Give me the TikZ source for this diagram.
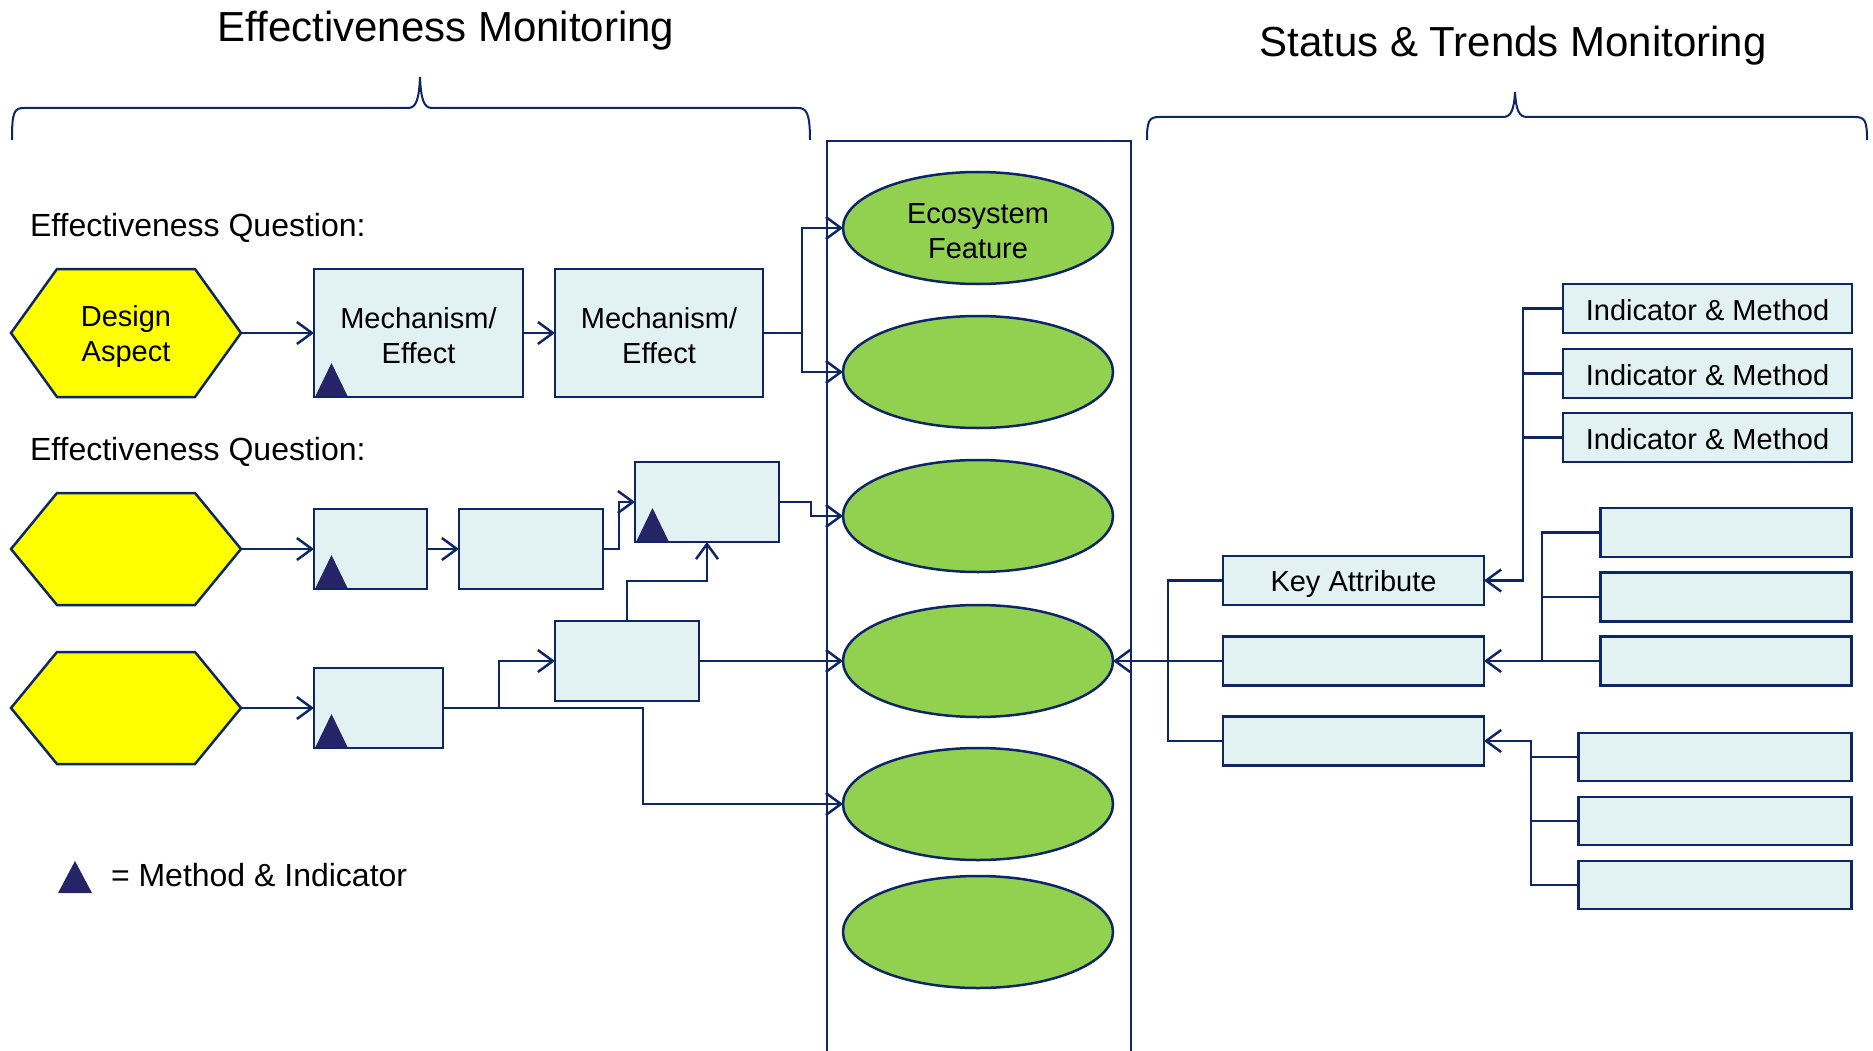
\documentclass[tikz,border=0pt]{standalone}
\usepackage{fontspec}
\setmainfont{Liberation Sans}
\usetikzlibrary{arrows.meta,shapes.geometric}
\definecolor{navy}{RGB}{14,38,104}
\definecolor{boxfill}{RGB}{226,242,243}
\definecolor{ellfill}{RGB}{146,208,80}
\definecolor{trifill}{RGB}{37,36,102}
\definecolor{hexfill}{RGB}{255,255,0}
\newcommand\drawhex[1]{\filldraw[draw=navy, fill=hexfill, line width=2.5pt] (#1.west) -- ([xshift=46pt]#1.north west) -- ([xshift=-46pt]#1.north east) -- (#1.east) -- ([xshift=-46pt]#1.south east) -- ([xshift=46pt]#1.south west) -- cycle;}
\newcommand\mitri[1]{\fill[trifill] ([xshift=1.5pt,yshift=1pt]#1.south west) -- ++(32,0) -- ++(-16,-33) -- cycle;}
\begin{document}
\begin{tikzpicture}[x=1pt,y=-1pt,
  every node/.style={inner sep=0pt, outer sep=0pt},
  nodefont/.style={font=\fontsize{29}{35}\selectfont},
  boxn/.style={draw=navy, fill=boxfill, line width=2.5pt},
  txt/.style={nodefont, align=center},
  ell/.style={ellipse, draw=navy, fill=ellfill, line width=2.5pt, minimum width=270pt, minimum height=112pt},
  hexn/.style={minimum width=230pt},
  conn/.style={draw=navy, line width=2.5pt},
  arr/.style={conn, -{Straight Barb[length=15pt,width=22pt]}},
  brace/.style={draw=navy, line width=2pt},
  lbl/.style={font=\fontsize{32}{38}\selectfont, anchor=base west},
  ttl/.style={font=\fontsize{42}{50}\selectfont, anchor=base},
]
\useasboundingbox (0,0) rectangle (1873,1051);

% titles and braces
\node[ttl] (t1) at (446,42) {Effectiveness Monitoring};
\node[ttl] (t2) at (1513,57) {Status \& Trends Monitoring};
\draw[brace] (12,140) .. controls (12,112) and (14,108) .. (24,108) -- (408,108) .. controls (416,108) and (419,100) .. (420,77) .. controls (421,100) and (424,108) .. (432,108) -- (798,108) .. controls (806,108) and (810,112) .. (810,140);
\draw[brace] (1147,140) .. controls (1147,121) and (1149,117) .. (1159,117) -- (1503,117) .. controls (1511,117) and (1514,110) .. (1515,92) .. controls (1516,110) and (1519,117) .. (1527,117) -- (1855,117) .. controls (1865,117) and (1867,121) .. (1867,140);

% centre column
\draw[navy, line width=2pt] (827,1053) -- (827,141) -- (1131,141) -- (1131,1053);

% ellipses
\node[ell] (e1) at (978,228) {};
\node[txt] (e1t) at ([yshift=-3pt]e1.center) {Ecosystem\\Feature};
\node[ell] (e2) at (978,372) {};
\node[ell] (e3) at (978,516) {};
\node[ell] (e4) at (978,661) {};
\node[ell] (e5) at (978,804) {};
\node[ell] (e6) at (978,932) {};

% section labels
\node[lbl] (q1) at (30,236) {Effectiveness Question:};
\node[lbl] (q2) at (30,460) {Effectiveness Question:};

% row 1
\node[hexn, minimum height=128pt] (hex1) at (126,333) {};
\drawhex{hex1}
\node[txt] (hex1t) at ([yshift=-3pt]hex1.center) {Design\\Aspect};
\node[boxn, minimum width=209pt, minimum height=128pt] (m1) at (418.5,333) {};
\node[txt] (m1t) at ([yshift=-3pt]m1.center) {Mechanism/\\Effect};
\node[boxn, minimum width=208pt, minimum height=128pt] (m2) at (659,333) {};
\node[txt] (m2t) at ([yshift=-3pt]m2.center) {Mechanism/\\Effect};
\mitri{m1}

% row 2
\node[hexn, minimum height=112pt] (hex2) at (126,549) {};
\drawhex{hex2}
\node[boxn, minimum width=113pt, minimum height=80pt] (b2a) at (370.5,549) {};
\node[boxn, minimum width=144pt, minimum height=80pt] (b2b) at (531,549) {};
\node[boxn, minimum width=144pt, minimum height=80pt] (b2c) at (707,502) {};
\mitri{b2a}
\mitri{b2c}

% row 3
\node[hexn, minimum height=112pt] (hex3) at (126,708) {};
\drawhex{hex3}
\node[boxn, minimum width=129pt, minimum height=80pt] (b3a) at (378.5,708) {};
\node[boxn, minimum width=144pt, minimum height=80pt] (b3b) at (627,661) {};
\mitri{b3a}

% left connectors
\draw[arr] (hex1.east) -- (m1.west);
\draw[arr] (m1.east) -- (m2.west);
\draw[conn] (m2.east) -- ++(39,0) coordinate (j1);
\draw[arr] (j1) |- (e1.west);
\draw[arr] (j1) |- (e2.west);
\draw[arr] (hex2.east) -- (b2a.west);
\draw[arr] (b2a.east) -- (b2b.west);
\draw[arr] (b2b.east) -- ++(16,0) |- (b2c.west);
\draw[arr] (b2c.east) -- ++(32,0) |- (e3.west);
\draw[arr] (hex3.east) -- (b3a.west);
\draw[arr] (b3a.east) -- ++(56,0) |- (b3b.west);
\draw[arr] (b3a.east) -- ++(200,0) |- (e5.west);
\draw[arr] (b3b.north) -- ++(0,-40) -| (b2c.south);
\draw[arr] (b3b.east) -- (e4.west);

% right side boxes
\node[boxn, minimum width=261pt, minimum height=49pt] (ka) at (1353.5,580.5) {};
\node[txt] (kat) at ([yshift=-3pt]ka.center) {Key Attribute};
\node[boxn, minimum width=261pt, minimum height=49pt] (a2) at (1353.5,661) {};
\node[boxn, minimum width=261pt, minimum height=49pt] (a3) at (1353.5,741) {};
\node[boxn, minimum width=289pt, minimum height=49pt] (im1) at (1707.5,308.5) {};
\node[txt] (im1t) at ([yshift=-2pt]im1.center) {Indicator \& Method};
\node[boxn, minimum width=289pt, minimum height=49pt] (im2) at (1707.5,373.5) {};
\node[txt] (im2t) at ([yshift=-2pt]im2.center) {Indicator \& Method};
\node[boxn, minimum width=289pt, minimum height=49pt] (im3) at (1707.5,437.5) {};
\node[txt] (im3t) at ([yshift=-2pt]im3.center) {Indicator \& Method};
\node[boxn, minimum width=251pt, minimum height=49pt] (g1) at (1726,532.5) {};
\node[boxn, minimum width=251pt, minimum height=49pt] (g2) at (1726,597) {};
\node[boxn, minimum width=251pt, minimum height=49pt] (g3) at (1726,661) {};
\node[boxn, minimum width=273pt, minimum height=48pt] (f1) at (1715,757) {};
\node[boxn, minimum width=273pt, minimum height=48pt] (f2) at (1715,821) {};
\node[boxn, minimum width=273pt, minimum height=48pt] (f3) at (1715,885) {};

% right connectors
\draw[arr] (im1.west) -- ++(-40,0) |- (ka.east);
\draw[conn] (im2.west) -- ++(-40,0);
\draw[conn] (im3.west) -- ++(-40,0);
\draw[arr] (g1.west) -- ++(-58.5,0) |- (a2.east);
\draw[conn] (g2.west) -- ++(-58.5,0);
\draw[conn] (g3.west) -- ++(-58.5,0);
\draw[arr] (f3.west) -- ++(-47.5,0) |- (a3.east);
\draw[conn] (f1.west) -- ++(-47.5,0);
\draw[conn] (f2.west) -- ++(-47.5,0);
\draw[conn] (ka.west) -- ++(-55,0) |- (a3.west);
\draw[arr] (a2.west) -- (e4.east);

% legend
\fill[trifill] (58,893) -- (92,893) -- (75,861) -- cycle;
\node[lbl] (leg) at (111,886) {= Method \& Indicator};
\end{tikzpicture}
\end{document}
